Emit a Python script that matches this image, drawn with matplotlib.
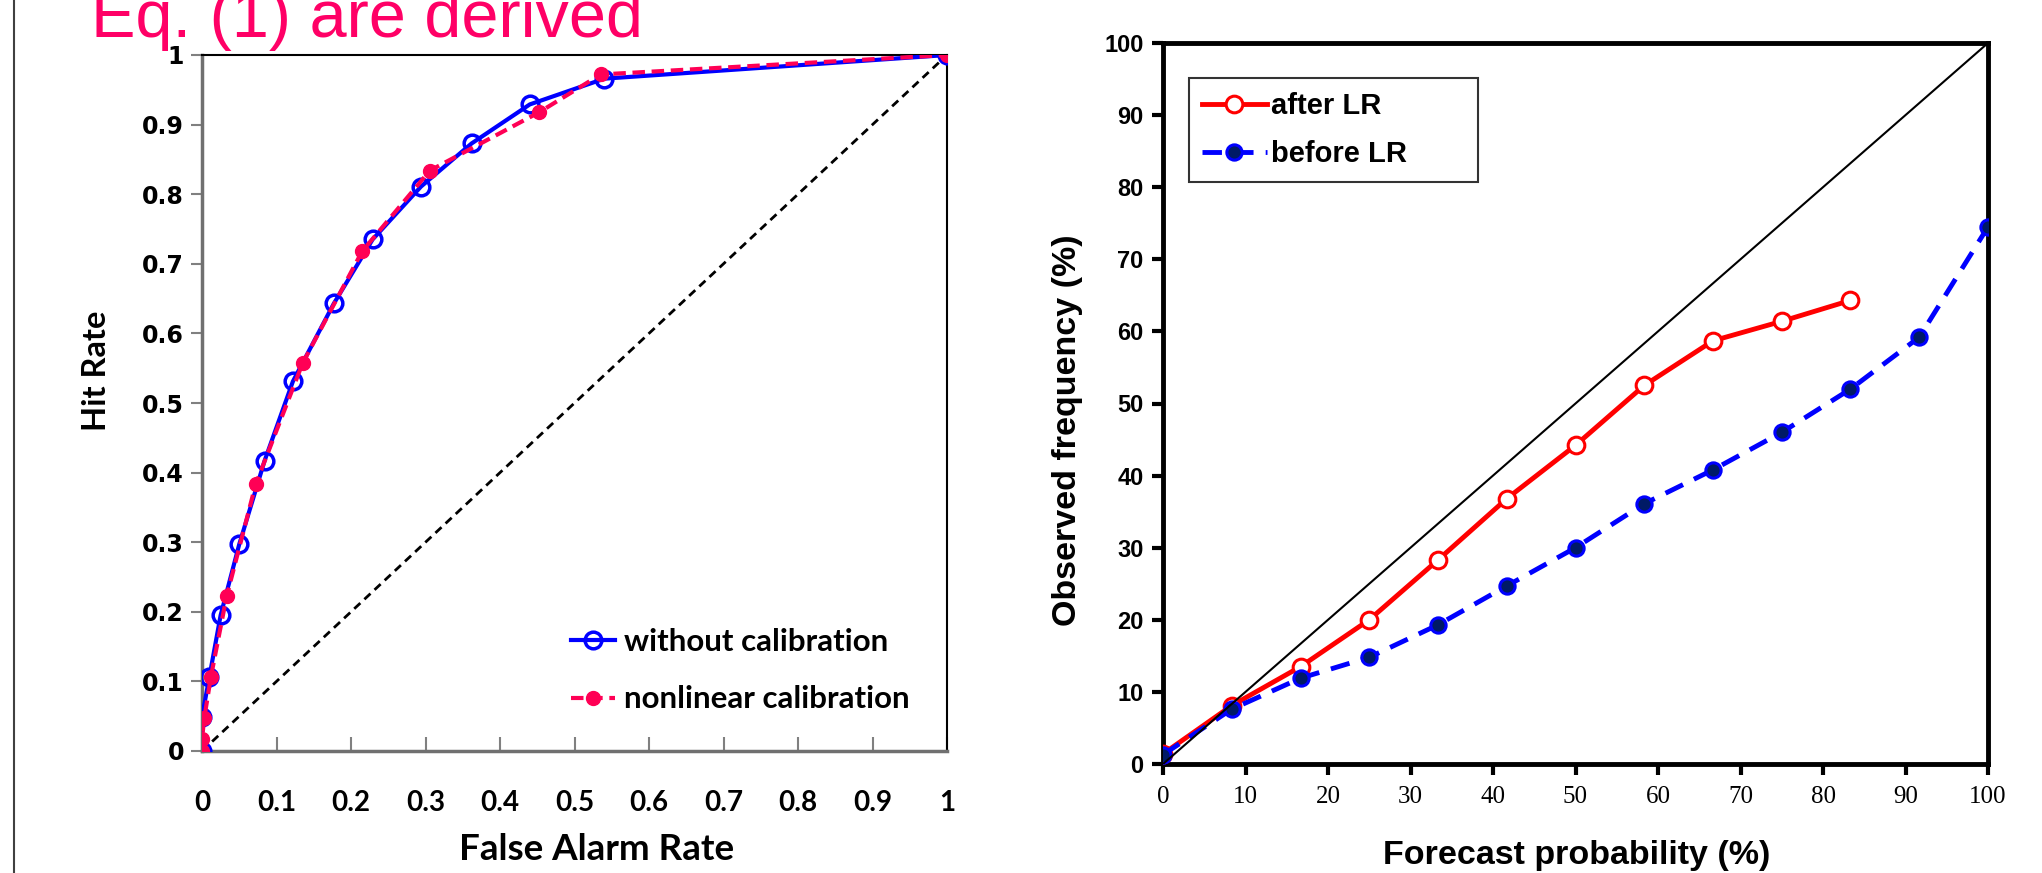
import numpy as np
import matplotlib
matplotlib.use("Agg")
import matplotlib.pyplot as plt
from matplotlib.lines import Line2D

# ROC curve (left panel)
far_raw = [0, 0, 0.01, 0.025, 0.05, 0.084, 0.122, 0.177, 0.229, 0.294, 0.362, 0.44, 0.54, 1]
hr_raw = [0, 0.049, 0.107, 0.195, 0.297, 0.417, 0.531, 0.643, 0.735, 0.811, 0.873, 0.929, 0.966, 1]
far_cal = [0, 0, 0.003, 0.012, 0.033, 0.072, 0.135, 0.215, 0.306, 0.453, 0.535, 1]
hr_cal = [0, 0.017, 0.047, 0.107, 0.222, 0.383, 0.557, 0.718, 0.834, 0.918, 0.972, 1]
roc_ticks = [0, 0.1, 0.2, 0.3, 0.4, 0.5, 0.6, 0.7, 0.8, 0.9, 1]
roc_ticklabels = ['0', '0.1', '0.2', '0.3', '0.4', '0.5', '0.6', '0.7', '0.8', '0.9', '1']

# reliability diagram (right panel)
prob = [0, 8.33, 16.67, 25, 33.33, 41.67, 50, 58.33, 66.67, 75, 83.33, 91.67, 100]
after_lr = [1.4, 8.1, 13.5, 20.0, 28.3, 36.8, 44.2, 52.5, 58.7, 61.4, 64.3]
before_lr = [1.3, 7.6, 11.9, 14.8, 19.3, 24.7, 30.0, 36.1, 40.8, 46.0, 52.0, 59.2, 74.5]
rel_ticks = [0, 10, 20, 30, 40, 50, 60, 70, 80, 90, 100]

NARROW = ['Liberation Sans Narrow', 'Liberation Sans']
W, H = 2042, 873


def style_labels(labels, family, weight='normal'):
    for lab in labels:
        lab.set_family(family)
        lab.set_fontweight(weight)


fig = plt.figure(figsize=(W / 100, H / 100), dpi=100)

# titel bovenaan (afgesneden)
fig.text(91 / W, 1 - 37 / H, 'Eq. (1) are derived', color='#ff0066',
         fontsize=48, family='Liberation Sans', va='baseline', ha='left')

# verticale lijn links
fig.add_artist(Line2D([14 / W, 14 / W], [0, 1], color='#404040', lw=1.5))

# ---------------- left: ROC ----------------
ax1 = fig.add_axes([202 / W, 1 - 751 / H, 745 / W, 696 / H])
ax1.plot([0, 1], [0, 1], color='black', lw=2, ls=(0, (3, 2)), zorder=1)
ax1.plot(far_raw, hr_raw, color='#0000ff', lw=3, marker='o', ms=12,
         mfc='none', mec='#0000ff', mew=2.5, label='without calibration', zorder=3)
ax1.plot(far_cal, hr_cal, color='#ff0055', lw=3, ls=(0, (3, 1.6)), marker='o', ms=10,
         mfc='#ff0055', mec='#ff0055', label='nonlinear calibration', zorder=4)
ax1.set_xlim(0, 1)
ax1.set_ylim(0, 1)
ax1.tick_params(axis='x', direction='in', length=10, width=1.5, color='#808080',
                pad=28, labelsize=20)
ax1.tick_params(axis='y', direction='out', length=8, width=1.5, color='#808080',
                pad=5, labelsize=17)
ax1.set_xticks(roc_ticks)
ax1.set_xticklabels(roc_ticklabels)
ax1.set_yticks(roc_ticks)
ax1.set_yticklabels(roc_ticklabels)
style_labels(ax1.get_xticklabels(), 'Lato', 'bold')
style_labels(ax1.get_yticklabels(), ['DejaVu Sans Condensed', 'DejaVu Sans'], 'bold')
for s in ['left', 'bottom']:
    ax1.spines[s].set_color('#707070')
    ax1.spines[s].set_linewidth(2.5)
for s in ['top', 'right']:
    ax1.spines[s].set_color('black')
    ax1.spines[s].set_linewidth(1.5)
ax1.set_xlabel('False Alarm Rate', family='Lato', fontweight='bold', fontsize=26.5)
ax1.set_ylabel('Hit Rate', family='Lato', fontweight='bold', fontsize=23.5)
ax1.xaxis.set_label_coords(0.530, -0.118)
ax1.yaxis.set_label_coords(-0.122, 0.546)
ax1.legend(loc='upper left', bbox_to_anchor=(0.495, 0.177), frameon=False,
           prop={'family': 'Lato', 'weight': 'bold', 'size': 22.5},
           handlelength=1.4, handletextpad=0.3, labelspacing=0.95,
           borderpad=0, borderaxespad=0)

# ---------------- right: reliability ----------------
ax2 = fig.add_axes([1163 / W, 1 - 764 / H, 825 / W, 721 / H])
ax2.plot(prob[:len(after_lr)], after_lr, color='#ff0000', lw=3.5, marker='o', ms=12,
         mfc='white', mec='#ff0000', mew=2.2, label='after LR', zorder=3)
ax2.plot(prob, before_lr, color='#0000ff', lw=3.5, ls=(0, (4, 2.5)), marker='o', ms=11,
         mfc='#001a66', mec='#0000ff', mew=2.2, label='before LR', zorder=4)
ax2.plot([0, 100], [0, 100], color='black', lw=1.5, zorder=5)
ax2.set_xlim(0, 100)
ax2.set_ylim(0, 100)
ax2.tick_params(axis='both', direction='out', length=8, width=3, color='black')
ax2.tick_params(axis='x', pad=8, labelsize=18)
ax2.tick_params(axis='y', pad=6, labelsize=17)
ax2.set_xticks(rel_ticks)
ax2.set_xticklabels([str(t) for t in rel_ticks])
ax2.set_yticks(rel_ticks)
ax2.set_yticklabels([str(t) for t in rel_ticks])
style_labels(ax2.get_xticklabels(), 'Liberation Serif')
style_labels(ax2.get_yticklabels(), NARROW, 'bold')
for s in ax2.spines.values():
    s.set_linewidth(3.5)
    s.set_color('black')
ax2.set_xlabel('Forecast probability (%)', family='Liberation Sans', fontweight='bold', fontsize=24.5)
ax2.set_ylabel('Observed frequency (%)', family='Liberation Sans', fontweight='bold', fontsize=24.5)
ax2.xaxis.set_label_coords(0.502, -0.106)
ax2.yaxis.set_label_coords(-0.097, 0.463)
leg = ax2.legend(loc='upper left', bbox_to_anchor=(0.0315, 0.5, 0.35, 0.451), mode='expand',
                 fancybox=False, prop={'family': NARROW, 'weight': 'bold', 'size': 21},
                 handlelength=2.2, handletextpad=0.15, labelspacing=0.71,
                 borderpad=0.46, borderaxespad=0, edgecolor='black')
leg.get_frame().set_linewidth(1.5)

fig.savefig('out.png', dpi=100)
